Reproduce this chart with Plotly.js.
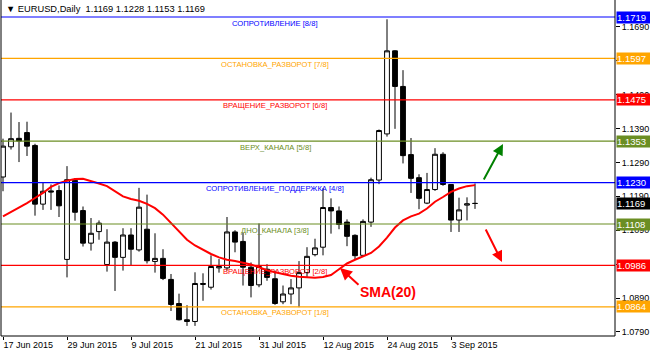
<!DOCTYPE html>
<html>
<head>
<meta charset="utf-8">
<script src="https://cdn.plot.ly/plotly-3.0.1.min.js"></script>
<style>
html,body{margin:0;padding:0;background:#fff;}
#chart{width:650px;height:353px;}
</style>
</head>
<body>
<div id="chart"></div>
<script>
// ---- data ----
const symbol = "EURUSD";
const period = "Daily";
const dates = [
 "2015-06-17","2015-06-18","2015-06-19","2015-06-22","2015-06-23","2015-06-24","2015-06-25","2015-06-26","2015-06-29","2015-06-30",
 "2015-07-01","2015-07-02","2015-07-03","2015-07-06","2015-07-07","2015-07-08","2015-07-09","2015-07-10","2015-07-13","2015-07-14",
 "2015-07-15","2015-07-16","2015-07-17","2015-07-20","2015-07-21","2015-07-22","2015-07-23","2015-07-24","2015-07-27","2015-07-28",
 "2015-07-29","2015-07-30","2015-07-31","2015-08-03","2015-08-04","2015-08-05","2015-08-06","2015-08-07","2015-08-10","2015-08-11",
 "2015-08-12","2015-08-13","2015-08-14","2015-08-17","2015-08-18","2015-08-19","2015-08-20","2015-08-21","2015-08-24","2015-08-25",
 "2015-08-26","2015-08-27","2015-08-28","2015-08-31","2015-09-01","2015-09-02","2015-09-03","2015-09-04","2015-09-07","2015-09-08"
];
const open = [
 1.1247,1.1336,1.1361,1.1378,1.1340,1.1167,1.1206,1.1207,1.1004,1.1237,
 1.1148,1.1052,1.1086,1.0989,1.1055,1.1010,1.1076,1.1032,1.1093,1.0998,
 1.1007,1.0945,1.0874,1.0826,1.0821,1.0930,1.0922,1.0979,1.0979,1.1085,
 1.1057,1.0981,1.0929,1.0975,1.0947,1.0879,1.0902,1.0920,1.0965,1.1018,
 1.1040,1.1157,1.1147,1.1114,1.1075,1.1016,1.1114,1.1238,1.1374,1.1619,
 1.1514,1.1313,1.1245,1.1170,1.1210,1.1314,1.1225,1.1120,1.1164,1.1169
];
const high = [
 1.1360,1.1437,1.1409,1.1410,1.1345,1.1230,1.1225,1.1222,1.1279,1.1244,
 1.1160,1.1126,1.1119,1.1093,1.1058,1.1096,1.1096,1.1215,1.1195,1.1081,
 1.1034,1.0961,1.0903,1.0869,1.0966,1.0963,1.1016,1.1005,1.1129,1.1090,
 1.1082,1.0995,1.1110,1.0990,1.0971,1.0927,1.0946,1.0999,1.1040,1.1065,
 1.1214,1.1184,1.1160,1.1122,1.1078,1.1122,1.1245,1.1387,1.1712,1.1621,
 1.1562,1.1362,1.1255,1.1259,1.1332,1.1320,1.1226,1.1186,1.1187,1.1228
];
const low = [
 1.1205,1.1328,1.1291,1.1309,1.1133,1.1150,1.1150,1.1129,1.0951,1.1118,
 1.1042,1.1030,1.1062,1.0968,1.0911,1.0971,1.0987,1.1027,1.0992,1.0965,
 1.0943,1.0852,1.0824,1.0808,1.0808,1.0882,1.0915,1.0965,1.0971,1.1025,
 1.0927,1.0892,1.0922,1.0941,1.0870,1.0872,1.0872,1.0863,1.0951,1.1013,
 1.1016,1.1080,1.1093,1.1043,1.1004,1.1012,1.1100,1.1226,1.1366,1.1389,
 1.1287,1.1200,1.1152,1.1167,1.1206,1.1221,1.1085,1.1085,1.1119,1.1153
];
const close = [
 1.1338,1.1360,1.1353,1.1338,1.1167,1.1205,1.1203,1.1162,1.1239,1.1143,
 1.1052,1.1081,1.1111,1.1055,1.1010,1.1076,1.1034,1.1158,1.1000,1.1007,
 1.0948,1.0871,1.0826,1.0821,1.0933,1.0933,1.0983,1.0983,1.1085,1.1055,
 1.0981,1.0927,1.0983,1.0951,1.0874,1.0902,1.0920,1.0965,1.1013,1.1038,
 1.1157,1.1147,1.1107,1.1072,1.1015,1.1116,1.1239,1.1384,1.1619,1.1514,
 1.1310,1.1243,1.1184,1.1210,1.1314,1.1225,1.1120,1.1150,1.1168,1.1169
];
const sma20 = [
 1.1131,1.1144,1.1155,1.1170,1.1185,1.1200,1.1218,1.1229,1.1236,1.1241,
 1.1242,1.1236,1.1228,1.1220,1.1205,1.1190,1.1182,1.1177,1.1168,1.1155,
 1.1136,1.1111,1.1086,1.1062,1.1045,1.1032,1.1020,1.1010,1.1003,1.0999,
 1.0995,1.0989,1.0981,1.0972,1.0966,1.0960,1.0956,1.0953,1.0951,1.0950,
 1.0952,1.0958,1.0975,1.0992,1.1003,1.1013,1.1023,1.1042,1.1068,1.1098,
 1.1119,1.1131,1.1139,1.1154,1.1174,1.1188,1.1203,1.1213,1.1220,1.1223
];
const levelValues = [1.171875,1.15966796875,1.1474609375,1.13525390625,1.123046875,1.11083984375,1.0986328125,1.08642578125];
const levelNames = [
 "СОПРОТИВЛЕНИЕ [8/8]","ОСТАНОВКА_РАЗВОРОТ [7/8]","ВРАЩЕНИЕ_РАЗВОРОТ [6/8]","ВЕРХ_КАНАЛА [5/8]",
 "СОПРОТИВЛЕНИЕ_ПОДДЕРЖКА [4/8]","ДНО_КАНАЛА [3/8]","ВРАЩЕНИЕ_РАЗВОРОТ [2/8]","ОСТАНОВКА_РАЗВОРОТ [1/8]"
];
const xTickDates = ["2015-06-17","2015-06-29","2015-07-09","2015-07-21","2015-07-31","2015-08-12","2015-08-24","2015-09-03"];
const xTickLabels = ["17 Jun 2015","29 Jun 2015","9 Jul 2015","21 Jul 2015","31 Jul 2015","12 Aug 2015","24 Aug 2015","3 Sep 2015"];
const yTickValues = [1.079,1.089,1.099,1.109,1.119,1.129,1.139,1.149,1.159,1.169];
// tick labels fully covered by the price boxes in the original are left blank
const yTickLabels = ["1.0790","1.0890","","1.1090","1.1190","1.1290","1.1390","1.1490","","1.1690"];
const smaLabel = "SMA(20)";

// ---- styles ----
const levelColors = ["#0000FF","#FFA500","#FF0000","#6B8E23","#0000FF","#6B8E23","#FF0000","#FFA500"];
const FONT = "Liberation Sans, Arial, sans-serif";

const xIdx = dates.map((d, i) => i);
const tickVals = xTickDates.map(d => dates.indexOf(d));

const candles = {
  type: "candlestick",
  x: xIdx, open: open, high: high, low: low, close: close,
  increasing: {line: {color: "#000000", width: 1}, fillcolor: "#FFFFFF"},
  decreasing: {line: {color: "#000000", width: 1}, fillcolor: "#000000"},
  whiskerwidth: 0,
  hoverinfo: "skip",
  showlegend: false
};
const smaTrace = {
  type: "scatter", mode: "lines",
  x: xIdx, y: sma20,
  line: {color: "#FF0000", width: 2},
  hoverinfo: "skip", showlegend: false
};

const shapes = [];
levelValues.forEach((v, k) => {
  shapes.push({type: "line", xref: "paper", x0: 0, x1: 1, yref: "y", y0: v, y1: v,
    line: {color: levelColors[k], width: 1.2}});
});
// frame
shapes.push({type: "line", xref: "paper", yref: "paper", x0: 0, x1: 0, y0: 0, y1: 1, line: {color: "#000", width: 1}});
shapes.push({type: "line", xref: "paper", yref: "paper", x0: 1, x1: 1, y0: 0, y1: 1, line: {color: "#000", width: 1}});
shapes.push({type: "line", xref: "paper", yref: "paper", x0: 0, x1: 1, y0: 0, y1: 0, line: {color: "#000", width: 1}});

const annotations = [];
levelValues.forEach((v, k) => {
  annotations.push({x: 34, y: v, xref: "x", yref: "y", text: levelNames[k], showarrow: false,
    xanchor: "center", yanchor: "middle", yshift: -6,
    font: {family: FONT, size: 7.6, color: levelColors[k]}});
});
// price boxes on the right
const boxVals = levelValues.concat([close[close.length - 1]]);
const boxColors = levelColors.concat(["#000000"]);
boxVals.forEach((v, k) => {
  annotations.push({x: 1, y: v, xref: "paper", yref: "y", text: v.toFixed(4), showarrow: false,
    xanchor: "left", yanchor: "middle", xshift: 1, width: 33, height: 11, align: "left",
    bgcolor: boxColors[k], borderpad: 0,
    font: {family: FONT, size: 9.5, color: "#FFFFFF"}});
});
// header
const n = close.length - 1;
annotations.push({x: 0, y: 1, xref: "paper", yref: "paper", xanchor: "left", yanchor: "top",
  xshift: 3, yshift: -2, showarrow: false,
  text: "▼ " + symbol + "," + period + "\u00a0\u00a0" + open[n].toFixed(4) + " " + high[n].toFixed(4) + " " + low[n].toFixed(4) + " " + close[n].toFixed(4),
  font: {family: FONT, size: 9.3, color: "#000"}});
// SMA label + arrow
annotations.push({x: 48.125, y: 1.09079, xref: "x", yref: "y", text: "<b>" + smaLabel + "</b>", showarrow: false,
  font: {family: FONT, size: 14, color: "#FF0000"}});
annotations.push({x: 42.125, y: 1.097865, xref: "x", yref: "y", text: "", showarrow: true,
  ax: 20, ay: 18, arrowhead: 2, arrowsize: 1.2, arrowwidth: 2, arrowcolor: "#FF0000"});
// direction arrows
annotations.push({x: 62.5, y: 1.13443, xref: "x", yref: "y", text: "", showarrow: true,
  ax: -20, ay: 37, arrowhead: 2, arrowsize: 1.1, arrowwidth: 2, arrowcolor: "#008000"});
annotations.push({x: 62.375, y: 1.099635, xref: "x", yref: "y", text: "", showarrow: true,
  ax: -17, ay: -34, arrowhead: 2, arrowsize: 1.1, arrowwidth: 2, arrowcolor: "#FF0000"});

const layout = {
  width: 650, height: 353,
  margin: {l: 1, r: 35, t: 0, b: 17, pad: 0},
  paper_bgcolor: "#FFFFFF", plot_bgcolor: "#FFFFFF",
  showlegend: false,
  boxgap: 0.4, boxgroupgap: 0,
  xaxis: {
    range: [-0.25, 76.5], showgrid: false, zeroline: false, showline: false,
    rangeslider: {visible: false},
    tickvals: tickVals, ticktext: xTickLabels,
    ticks: "outside", ticklen: 3, tickcolor: "#000", tickwidth: 1,
    ticklabelposition: "outside right",
    tickfont: {family: FONT, size: 9, color: "#000"}
  },
  yaxis: {
    range: [1.077816, 1.176888], side: "right",
    showgrid: false, zeroline: false, showline: false,
    tickvals: yTickValues, ticktext: yTickLabels,
    ticks: "outside", ticklen: 4, tickcolor: "#000", tickwidth: 1,
    tickfont: {family: FONT, size: 9, color: "#000"}
  },
  shapes: shapes,
  annotations: annotations
};

Plotly.newPlot("chart", [candles, smaTrace], layout, {staticPlot: true, displayModeBar: false});
</script>
</body>
</html>
